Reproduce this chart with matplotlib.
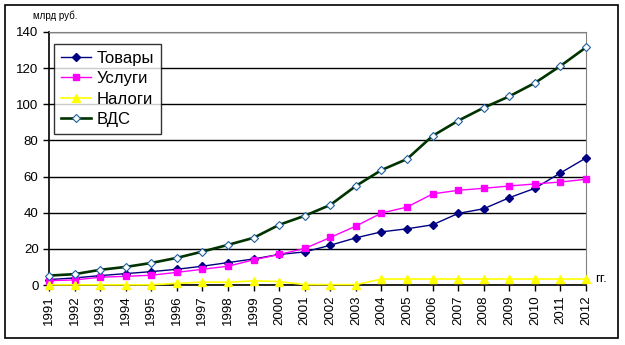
import numpy as np
import matplotlib.pyplot as plt
from matplotlib.patches import Rectangle

plt.rcParams['font.family'] = ['Liberation Sans', 'DejaVu Sans']

years = list(range(1991, 2013))
tovary = [3.0, 3.9, 5.2, 6.3, 7.4, 8.7, 10.4, 12.4, 14.4, 16.9, 18.3,
          22.0, 26.1, 29.4, 31.1, 33.3, 39.6, 42.2, 48.3, 53.5, 62.0, 70.3]
uslugi = [2.4, 2.8, 4.3, 4.8, 5.4, 7.0, 8.7, 10.4, 13.9, 16.9, 20.2,
          26.3, 32.6, 39.8, 43.1, 50.4, 52.4, 53.5, 54.8, 55.9, 57.0, 58.5]
nalogi = [0.1, 0.1, 0.1, 0.1, 0.1, 0.9, 1.6, 1.5, 2.3, 1.9, 0.2,
          0.2, 0.2, 3.3, 3.3, 3.3, 3.3, 3.3, 3.3, 3.3, 3.3, 3.3]
vds = [5.2, 6.0, 8.4, 10.0, 12.2, 15.0, 18.5, 22.2, 26.1, 33.3, 38.3,
       44.3, 54.8, 63.6, 69.7, 82.5, 90.9, 98.1, 104.4, 111.8, 121.2, 131.5]
labels = ['Товары', 'Услуги', 'Налоги', 'ВДС']
y_ticks = [0, 20, 40, 60, 80, 100, 120, 140]

fig = plt.figure(figsize=(6.25, 3.45), dpi=100)
ax = fig.add_axes([49/625, 1 - 285/345, (586-49)/625, (285-32)/345])

# outer frame of the chart
fig.patches.append(Rectangle((5/625, 1 - 338/345), 613/625, 333/345,
                             transform=fig.transFigure, fill=False,
                             edgecolor='black', lw=1.2))

ax.plot(years, tovary, color='#000080', lw=1, marker='D', ms=3.8,
        mfc='#000080', mec='#000080', label=labels[0], clip_on=False, zorder=4)
ax.plot(years, uslugi, color='#FF00FF', lw=1, marker='s', ms=5,
        mfc='#FF00FF', mec='#FF00FF', label=labels[1], clip_on=False, zorder=4)
ax.plot(years, nalogi, color='#FFFF00', lw=1.2, marker='^', ms=6,
        mfc='#FFFF00', mec='#FFFF00', label=labels[2], clip_on=False, zorder=5)
ax.plot(years, vds, color='#003300', lw=1.9, marker='D', ms=4.2,
        mfc='white', mec='#1F5F9F', mew=0.8, label=labels[3], clip_on=False, zorder=6)

ax.set_xlim(1991, 2012)
ax.set_ylim(0, 140)
ax.set_yticks(y_ticks)
ax.set_xticks(years)
ax.set_xticklabels([str(y) for y in years], rotation=90)
ax.tick_params(axis='both', labelsize=9.5, direction='out', length=4, width=1)
ax.yaxis.grid(True, color='black', lw=1)
ax.set_axisbelow(True)
for s in ['top', 'right']:
    ax.spines[s].set_color('#808080')
for s in ['left', 'bottom']:
    ax.spines[s].set_color('black')
    ax.spines[s].set_linewidth(1.2)

leg = ax.legend(loc='upper left', bbox_to_anchor=(5/537, 1 - 12/253),
                borderaxespad=0, fontsize=12, frameon=True, fancybox=False,
                edgecolor='black', borderpad=0.4, handlelength=1.8,
                handletextpad=0.35, labelspacing=0.33)
leg.get_frame().set_linewidth(1)

fig.text(33/625, 1 - 16/345, 'млрд руб.', fontsize=7, va='center')
fig.text(595/625, 1 - 279/345, 'гг.', fontsize=9.5, va='center')

fig.savefig('out.png', dpi=100)
